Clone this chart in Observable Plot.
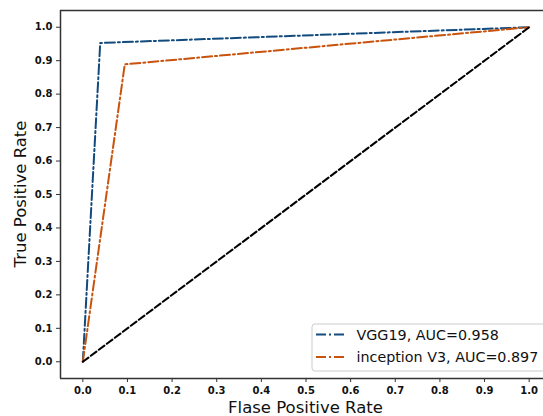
<!DOCTYPE html>
<html>
<head>
<meta charset="utf-8">
<script src="https://cdn.jsdelivr.net/npm/d3@7"></script>
<script src="https://cdn.jsdelivr.net/npm/@observablehq/plot@0.6"></script>
<style>
  html, body { margin: 0; padding: 0; background: #fff; }
  #chart { position: relative; width: 543px; height: 416px; overflow: hidden; }
  g[aria-label$="tick label"] text { font-weight: bold; }
</style>
</head>
<body>
<div id="chart"></div>
<script>
// ROC data
const vggFPR = [0, 0.039, 1];
const vggTPR = [0, 0.953, 1];
const incFPR = [0, 0.094, 1];
const incTPR = [0, 0.889, 1];
const chanceFPR = [0, 1];
const chanceTPR = [0, 1];
const seriesNames = ["VGG19, AUC=0.958", "inception V3, AUC=0.897"];
const seriesColors = ["#124b7e", "#c9530c"];
const tickValues = [0, 0.1, 0.2, 0.3, 0.4, 0.5, 0.6, 0.7, 0.8, 0.9, 1.0];
const axisLimits = [-0.05, 1.05];

const vgg = vggFPR.map((x, i) => ({x, y: vggTPR[i]}));
const inc = incFPR.map((x, i) => ({x, y: incTPR[i]}));
const chance = chanceFPR.map((x, i) => ({x, y: chanceTPR[i]}));

const font = "DejaVu Sans";
const dashDot = "10,3,2,3";

const plot = Plot.plot({
  width: 543,
  height: 416,
  marginLeft: 60,
  marginTop: 10,
  marginBottom: 38,
  marginRight: 0,
  style: {fontFamily: font, background: "#fff", overflow: "hidden"},
  x: {domain: axisLimits, range: [60, 551]},
  y: {domain: axisLimits, range: [378, 10]},
  marks: [
    Plot.line(vgg, {x: "x", y: "y", stroke: seriesColors[0], strokeWidth: 2, strokeDasharray: dashDot}),
    Plot.line(inc, {x: "x", y: "y", stroke: seriesColors[1], strokeWidth: 2, strokeDasharray: dashDot}),
    Plot.line(chance, {x: "x", y: "y", stroke: "#000", strokeWidth: 2, strokeDasharray: "7,3"}),
    Plot.ruleX(axisLimits, {y1: axisLimits[0], y2: axisLimits[1], stroke: "#333", strokeWidth: 1.5}),
    Plot.ruleY(axisLimits, {x1: axisLimits[0], x2: axisLimits[1], stroke: "#333", strokeWidth: 1.5}),
    Plot.axisX({ticks: tickValues, tickFormat: d3.format(".1f"), tickSize: 4, tickPadding: 4,
      fontSize: 10, label: null, stroke: "#333", color: "#111"}),
    Plot.axisY({ticks: tickValues, tickFormat: d3.format(".1f"), tickSize: 4, tickPadding: 4,
      fontSize: 10, label: null, stroke: "#333", color: "#111"})
  ]
});
document.getElementById("chart").appendChild(plot);

const svg = d3.select(plot);
svg.selectAll("g[aria-label$='tick label'] text").attr("font-weight", "bold");

// axis labels
svg.append("text")
  .attr("x", 305.5).attr("y", 412.5)
  .attr("text-anchor", "middle")
  .attr("font-family", font).attr("font-size", 16.5).attr("fill", "#111")
  .text("Flase Positive Rate");
svg.append("text")
  .attr("transform", "translate(26,194) rotate(-90)")
  .attr("text-anchor", "middle")
  .attr("font-family", font).attr("font-size", 16.5).attr("fill", "#111")
  .text("True Positive Rate");

// legend
const lg = svg.append("g");
lg.append("rect")
  .attr("x", 312).attr("y", 324).attr("width", 240).attr("height", 47)
  .attr("rx", 3).attr("fill", "#fff").attr("fill-opacity", 0.9)
  .attr("stroke", "#ccc").attr("stroke-width", 1);
seriesNames.forEach((name, i) => {
  const cy = 334.5 + i * 22.5;
  lg.append("line")
    .attr("x1", 316).attr("x2", 345).attr("y1", cy).attr("y2", cy)
    .attr("stroke", seriesColors[i]).attr("stroke-width", 2).attr("stroke-dasharray", dashDot);
  lg.append("text")
    .attr("x", 356.5).attr("y", cy).attr("dy", "0.36em")
    .attr("text-anchor", "start")
    .attr("font-family", font).attr("font-size", 14.3).attr("fill", "#111")
    .text(name);
});
</script>
</body>
</html>
